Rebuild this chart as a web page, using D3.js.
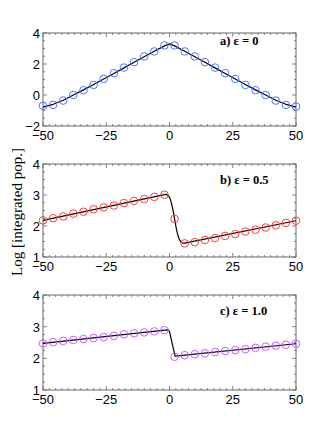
<!DOCTYPE html>
<html>
<head>
<meta charset="utf-8">
<script src="https://cdn.jsdelivr.net/npm/d3@7"></script>
<style>
  body { margin: 0; background: #fff; }
  svg { display: block; }
</style>
</head>
<body>
<svg width="327" height="438"></svg>
<script>
// sample positions (circles)
const xPts = [-50, -46, -42, -38, -34, -30, -26, -22, -18, -14, -10, -6, -2,
  2, 6, 10, 14, 18, 22, 26, 30, 34, 38, 42, 46, 50];

// a) eps = 0
const popA = [-0.70, -0.64, -0.36, 0.00, 0.31, 0.65, 1.04, 1.41, 1.77, 2.12, 2.49, 2.81, 3.20,
  3.20, 2.81, 2.49, 2.12, 1.77, 1.41, 1.04, 0.65, 0.31, 0.00, -0.36, -0.64, -0.75];
const lineAx = [-50, -46, -42, -38, -34, -30, -26, -22, -18, -14, -10, -6, -2, 0,
  2, 6, 10, 14, 18, 22, 26, 30, 34, 38, 42, 46, 50];
const lineAy = [-0.78, -0.60, -0.34, 0.00, 0.33, 0.68, 1.03, 1.39, 1.75, 2.11, 2.47, 2.82, 3.17, 3.30,
  3.17, 2.82, 2.47, 2.11, 1.75, 1.39, 1.03, 0.68, 0.33, 0.00, -0.34, -0.60, -0.78];

// b) eps = 0.5
const popB = [2.18, 2.25, 2.31, 2.40, 2.46, 2.54, 2.60, 2.66, 2.74, 2.81, 2.87, 2.94, 3.01,
  2.23, 1.44, 1.48, 1.55, 1.61, 1.68, 1.74, 1.82, 1.88, 1.95, 2.02, 2.10, 2.17];
const lineBx = [-50, -2, -1.5, -1, -0.5, 0, 0.5, 1, 1.5, 2, 2.5, 3, 3.5, 4, 4.5, 5, 5.5, 6, 50];
const lineBy = [2.18, 3.01, 3.02, 3.01, 2.98, 2.92, 2.82, 2.66, 2.46, 2.23, 2.00, 1.80, 1.65, 1.55, 1.49, 1.46, 1.45, 1.45, 2.17];

// c) eps = 1.0
const popC = [2.47, 2.51, 2.55, 2.58, 2.61, 2.64, 2.67, 2.71, 2.76, 2.79, 2.82, 2.85, 2.89,
  2.05, 2.10, 2.13, 2.16, 2.20, 2.23, 2.26, 2.29, 2.33, 2.37, 2.40, 2.43, 2.46];
const lineCx = [-50, -1, -0.5, 0, 2.2, 50];
const lineCy = [2.47, 2.90, 2.89, 2.84, 2.07, 2.46];

const xTicks = [-50, -25, 0, 25, 50];

const svg = d3.select("svg");
const left = 43, right = 296;

const panels = [
  { top: 33, bottom: 126, dom: [-2, 4], ticks: [-2, 0, 2, 4], minor: 0.5,
    pts: popA, lx: lineAx, ly: lineAy, color: "#4f74ff", label: "a) ε = 0", ly0: 45 },
  { top: 164, bottom: 257, dom: [1, 4], ticks: [1, 2, 3, 4], minor: 0.25,
    pts: popB, lx: lineBx, ly: lineBy, color: "#ff3b3b", label: "b) ε = 0.5", ly0: 184 },
  { top: 295, bottom: 390, dom: [1, 4], ticks: [1, 2, 3, 4], minor: 0.25,
    pts: popC, lx: lineCx, ly: lineCy, color: "#c75cff", label: "c) ε = 1.0", ly0: 315 }
];

const x = d3.scaleLinear().domain([-50, 50]).range([left, right]);
const frameCol = "#666";

panels.forEach(function(p) {
  const y = d3.scaleLinear().domain(p.dom).range([p.bottom, p.top]);
  const g = svg.append("g");

  // frame
  g.append("rect")
    .attr("x", left).attr("y", p.top)
    .attr("width", right - left).attr("height", p.bottom - p.top)
    .attr("fill", "none").attr("stroke", frameCol).attr("stroke-width", 1);

  // minor/major ticks pointing inward, on all four sides
  const xMinor = d3.range(-50, 50.01, 2.5);
  xMinor.forEach(function(v) {
    const major = v % 25 === 0;
    const len = major ? 4 : 2;
    g.append("line").attr("x1", x(v)).attr("x2", x(v))
      .attr("y1", p.bottom).attr("y2", p.bottom - len)
      .attr("stroke", frameCol).attr("stroke-width", 0.8);
    g.append("line").attr("x1", x(v)).attr("x2", x(v))
      .attr("y1", p.top).attr("y2", p.top + len)
      .attr("stroke", frameCol).attr("stroke-width", 0.8);
  });
  const yMinor = d3.range(p.dom[0], p.dom[1] + 0.001, p.minor);
  yMinor.forEach(function(v) {
    const major = p.ticks.some(t => Math.abs(t - v) < 1e-6);
    const len = major ? 4 : 2;
    g.append("line").attr("y1", y(v)).attr("y2", y(v))
      .attr("x1", left).attr("x2", left + len)
      .attr("stroke", frameCol).attr("stroke-width", 0.8);
    g.append("line").attr("y1", y(v)).attr("y2", y(v))
      .attr("x1", right).attr("x2", right - len)
      .attr("stroke", frameCol).attr("stroke-width", 0.8);
  });

  // tick labels
  g.selectAll(".xt").data(xTicks).enter().append("text")
    .attr("x", d => x(d)).attr("y", p.bottom + 14)
    .attr("text-anchor", "middle")
    .attr("font-family", "Liberation Sans, Arial, sans-serif")
    .attr("font-size", "13px")
    .text(d => d < 0 ? "\u2212" + Math.abs(d) : d);

  g.selectAll(".yt").data(p.ticks).enter().append("text")
    .attr("x", left - 3).attr("y", d => y(d) + 5)
    .attr("text-anchor", "end")
    .attr("font-family", "Liberation Sans, Arial, sans-serif")
    .attr("font-size", "13px")
    .text(d => d < 0 ? "\u2212" + Math.abs(d) : d);

  // theory line
  const line = d3.line()
    .x(d => x(d[0])).y(d => y(d[1]));
  g.append("path")
    .datum(d3.zip(p.lx, p.ly))
    .attr("d", line)
    .attr("fill", "none").attr("stroke", "#000").attr("stroke-width", 1.2)
    .attr("stroke-linejoin", "round");

  // circles
  g.selectAll("circle").data(d3.zip(xPts, p.pts)).enter().append("circle")
    .attr("cx", d => x(d[0])).attr("cy", d => y(d[1]))
    .attr("r", 3.8)
    .attr("fill", "none").attr("stroke", p.color).attr("stroke-width", 1);

  // panel label
  g.append("text")
    .attr("x", 220).attr("y", p.ly0)
    .attr("font-family", "Liberation Serif, Times New Roman, serif")
    .attr("font-weight", "bold")
    .attr("font-size", "12.5px")
    .text(p.label);
});

// y axis title
svg.append("text")
  .attr("transform", "translate(22,212) rotate(-90)")
  .attr("text-anchor", "middle")
  .attr("font-family", "Liberation Serif, Times New Roman, serif")
  .attr("font-size", "15px")
  .text("Log [integrated pop.]");
</script>
</body>
</html>
